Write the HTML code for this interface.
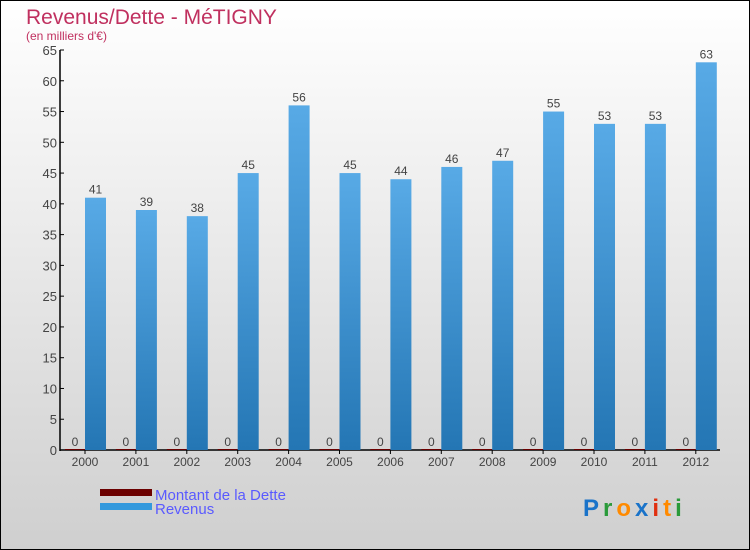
<!DOCTYPE html>
<html><head><meta charset="utf-8"><style>
body{margin:0}
#c{width:750px;height:550px;position:relative;box-sizing:border-box;border:1px solid #000;background:linear-gradient(#ffffff,#cfcfcf);font-family:"Liberation Sans",sans-serif;overflow:hidden}
</style></head><body>
<div id="c">
<svg id="s" width="750" height="550" style="position:absolute;left:-1px;top:-1px">
<defs><linearGradient id="bg" x1="0" y1="0" x2="0" y2="1"><stop offset="0" stop-color="#58aae6"/><stop offset="1" stop-color="#2476b4"/></linearGradient></defs>
<text x="26" y="24" font-size="21" fill="#c0305f">Revenus/Dette - MéTIGNY</text>
<text x="26" y="40" font-size="12" fill="#c0305f">(en milliers d'€)</text>
<g id="g"></g>
<rect x="100" y="489" width="52" height="7" fill="#6b0000"/>
<rect x="100" y="503" width="52" height="7" fill="#3399dd"/>
<text x="155" y="500" font-size="15" fill="#5a5aff">Montant de la Dette</text>
<text x="155" y="514" font-size="15" fill="#5a5aff">Revenus</text>
<text x="583" y="516" font-size="24" font-weight="bold" letter-spacing="4"><tspan fill="#1a73c9">P</tspan><tspan fill="#2a9a3a">r</tspan><tspan fill="#ff8a00">o</tspan><tspan fill="#1a73c9">x</tspan><tspan fill="#e03010">i</tspan><tspan fill="#ff8a00">t</tspan><tspan fill="#2a9a3a">i</tspan></text>
</svg>
</div>
<script>
const years=["2000","2001","2002","2003","2004","2005","2006","2007","2008","2009","2010","2011","2012"];
const dette=[0,0,0,0,0,0,0,0,0,0,0,0,0];
const revenus=[41,39,38,45,56,45,44,46,47,55,53,53,63];
const yTicks=[0,5,10,15,20,25,30,35,40,45,50,55,60,65];
const NS="http://www.w3.org/2000/svg";
const g=document.getElementById('g');
const y=v=>450-v*400/65;
const x=i=>85+i*50.9;
function mk(t,a,txt){const e=document.createElementNS(NS,t);for(const k in a)e.setAttribute(k,a[k]);if(txt!==undefined)e.textContent=txt;g.appendChild(e);return e;}
let ax=mk('line',{x1:60,y1:50,x2:60,y2:451,stroke:'#000','stroke-width':1.5});


let xa=mk('line',{x1:60,y1:450,x2:720,y2:450,stroke:'#000','stroke-width':1.5});


yTicks.forEach(v=>{
 let t=mk('line',{x1:60,y1:y(v),x2:64,y2:y(v),stroke:'#000'});
 
 
 let l=mk('text',{x:57,y:y(v)+5,'font-size':13,fill:'#444','text-anchor':'end'},v);
 
 
});
years.forEach((yr,i)=>{
 let t=mk('line',{x1:x(i),y1:450,x2:x(i),y2:454,stroke:'#000'});
 
 
 let l=mk('text',{x:x(i),y:466,'font-size':12,fill:'#444','text-anchor':'middle'},yr);
 
 
 let d=mk('rect',{x:x(i)-20,y:y(dette[i])-1,width:20,height:450-y(dette[i])+1,fill:'#6b0000'});
 
 
 let dl=mk('text',{x:x(i)-10,y:y(dette[i])-4,'font-size':12,fill:'#444','text-anchor':'middle'},dette[i]);
 
 
 let r=mk('rect',{x:x(i),y:y(revenus[i]),width:21,height:450-y(revenus[i]),fill:'url(#bg)'});
 
 
 let rl=mk('text',{x:x(i)+10.5,y:y(revenus[i])-4,'font-size':12,fill:'#444','text-anchor':'middle'},revenus[i]);
 
 
});
</script>
</body></html>
